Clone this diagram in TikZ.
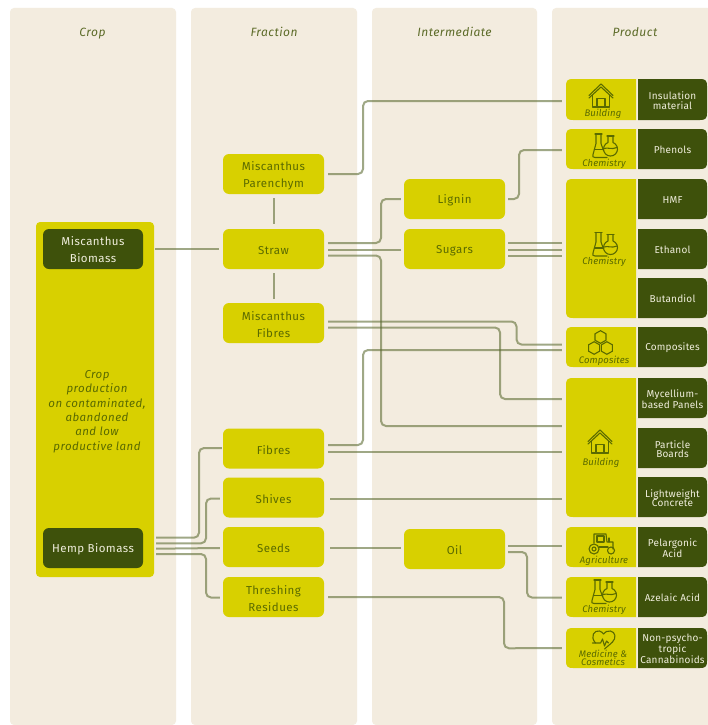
\documentclass[tikz,border=0pt]{standalone}
\usepackage{fontspec}
\setmainfont{Fira Sans}[LetterSpace=4]
\usetikzlibrary{calc}
\definecolor{panelc}{HTML}{F3ECDF}
\definecolor{yel}{HTML}{D8D000}
\definecolor{drk}{HTML}{3E510B}
\definecolor{ytext}{HTML}{5A6A00}
\definecolor{htext}{HTML}{5C6B28}
\definecolor{lnc}{HTML}{5A6A30}
\definecolor{ltext}{HTML}{F0EEDC}
\tikzset{
  x=1pt,y=-1pt,
  panel/.style={fill=panelc,rounded corners=4},
  head/.style={font=\fontsize{12}{14}\selectfont\itshape,text=htext,anchor=center,inner sep=0,text height=9pt,text depth=3pt},
  ybox/.style={fill=yel,rounded corners=6,minimum width=101pt,minimum height=40pt,inner sep=0},
  dbox/.style={fill=drk,rounded corners=6,minimum width=100pt,minimum height=40pt,inner sep=0},
  ytxt/.style={inner sep=0,align=center,text=ytext,font=\fontsize{11.5}{17}\selectfont},
  dtxt/.style={inner sep=0,align=center,text=ltext,font=\fontsize{11.5}{16.5}\selectfont},
  ptxt/.style={inner sep=0,align=center,text=ltext,font=\fontsize{10}{9.5}\selectfont\addfontfeature{LetterSpace=2}},
  ilab/.style={inner sep=0,align=center,text=ytext,font=\fontsize{9.5}{8.5}\selectfont\itshape\addfontfeature{LetterSpace=1.5}},
  conn/.style={draw=lnc,opacity=.58,line width=2pt,rounded corners=5pt},
  ico/.style={draw=ytext,line width=1.1pt,line join=round,line cap=round},
  iconhouse/.pic={
    \draw[ico] (-12,0)--(0,-11.5)--(12,0);
    \draw[ico] (-12,2.5)--(0,-8.5)--(12,2.5);
    \draw[ico] (-8.5,0)--(-8.5,11.5)--(8.5,11.5)--(8.5,0);
    \draw[ico] (-4,11.5)--(-4,3)--(4,3)--(4,11.5);
  },
  iconflask/.pic={
    \draw[ico] (-10,-11.5)--(-3,-11.5);
    \draw[ico] (-9,-11.5)--(-9,-2)--(-12,9) .. controls (-12.5,11.5) .. (-10,12)--(2,12);
    \draw[ico] (-4,-11.5)--(-4,-2)--(-1.5,5);
    \draw[ico] (-10.5,4)--(-2,4);
    \draw[ico] (2,-9.5)--(9,-9.5);
    \draw[ico] (3,-9.5)--(3,-3) arc[start angle=249,end angle=-69,radius=7] --(8,-9.5);
    \draw[ico] (-1,3) .. controls (3,1.5) and (6,4.5) .. (12,2);
  },
  iconhex/.pic={
    \foreach \cx/\cy in {0/-5.5,-6.4/5.5,6.4/5.5}{
      \draw[ico] (\cx,\cy-6.3)--(\cx+5.5,\cy-3.2)--(\cx+5.5,\cy+3.2)--(\cx,\cy+6.3)--(\cx-5.5,\cy+3.2)--(\cx-5.5,\cy-3.2)--cycle;
    }
  },
  icontractor/.pic={
    \draw[ico] (-8,-1)--(-8,-10)--(4,-10)--(5,-2)--(11,-2)--(11,5);
    \draw[ico] (-5,-8)--(2,-8)--(2,-2)--(-5,-2)--cycle;
    \draw[ico] (-3,3)--(6,3);
    \draw[ico] (7,-6) -- (7,-2);
    \draw[ico] (-8,5) circle[radius=5];
    \draw[ico] (-8,5) circle[radius=2];
    \draw[ico] (9,6.5) circle[radius=3.5];
  },
  iconheart/.pic={
    \draw[ico] (-8,3) .. controls (-14,-4) and (-9,-10) .. (-4,-9) .. controls (-2,-8.5) and (-.5,-7) .. (0,-6)
      .. controls (1,-8) and (4,-9.5) .. (7,-9) .. controls (12,-8) and (13,-2) .. (9,2) .. controls (6,5) and (3,7) .. (1,9);
    \draw[ico] (-11,3)--(-3,3)--(-1,-1)--(1,6)--(3,1)--(5,3);
  }
}
\newcommand{\ynode}[4]{% name x y text (a yellow box)
  \node[ybox] (#1) at (#2,#3) {};
  \node[ytxt] (#1t) at ([yshift=-1.5pt]#1.center) {#4};
}
\newcommand{\dnode}[4]{% name x y text (a dark box)
  \node[dbox] (#1) at (#2,#3) {};
  \node[dtxt] (#1t) at ([yshift=-.8pt]#1.center) {#4};
}
\newcommand{\lbox}[5]{% name x1 y1 x2 y2 : rounded on the left
  \fill[yel] (#4,#3)--(#2+7,#3) .. controls (#2+1.5,#3) and (#2,#3+1.5) .. (#2,#3+7)
     --(#2,#5-7) .. controls (#2,#5-1.5) and (#2+1.5,#5) .. (#2+7,#5)--(#4,#5)--cycle;
  \node[inner sep=0,minimum width=#4pt-#2pt,minimum height=#5pt-#3pt] (#1) at ({(#2+#4)/2},{(#3+#5)/2}) {};
}
\newcommand{\rbox}[6]{% name x1 y1 x2 y2 text : rounded on the right
  \fill[drk] (#2,#3)--(#4-7,#3) .. controls (#4-1.5,#3) and (#4,#3+1.5) .. (#4,#3+7)
     --(#4,#5-7) .. controls (#4,#5-1.5) and (#4-1.5,#5) .. (#4-7,#5)--(#2,#5)--cycle;
  \node[ptxt] (#1) at ({(#2+#4)/2},{(#3+#5)/2+1}) {#6};
}
\begin{document}
\begin{tikzpicture}
\useasboundingbox (0,0) rectangle (707,725);
\fill[white] (0,0) rectangle (707,725);
% column panels
\fill[panel] (10,8) rectangle (176,725);
\fill[panel] (191,8) rectangle (357,725);
\fill[panel] (372,8) rectangle (537,725);
\fill[panel] (552,8) rectangle (720,725);
\node[head] (h1) at (92.5,33.5) {Crop};
\node[head] (h2) at (274,33.5) {Fraction};
\node[head] (h3) at (454.5,33.5) {Intermediate};
\node[head] (h4) at (635,33.5) {Product};
% crop
\fill[yel,rounded corners=4] (36,222) rectangle (154,577);
\node[inner sep=0,minimum width=118pt,minimum height=355pt] (crop) at (95,399.5) {};
\node[inner sep=0,align=center,text=ytext,font=\fontsize{11.5}{14.3}\selectfont\itshape] (croptxt) at (97,411.5)
  {Crop\\production\\on contaminated,\\abandoned\\and low\\productive land};
\dnode{mb}{93}{249}{Miscanthus\\Biomass}
\dnode{hb}{93}{548}{Hemp Biomass}
% fraction
\ynode{parenchym}{273.5}{174}{Miscanthus\\Parenchym}
\ynode{straw}{273.5}{249}{Straw}
\ynode{mfibres}{273.5}{323}{Miscanthus\\Fibres}
\ynode{fibres}{273.5}{448.5}{Fibres}
\ynode{shives}{273.5}{497.5}{Shives}
\ynode{seeds}{273.5}{547}{Seeds}
\ynode{thresh}{273.5}{597}{Threshing\\Residues}
% intermediate
\ynode{lignin}{454.5}{199}{Lignin}
\ynode{sugars}{454.5}{249}{Sugars}
\ynode{oil}{454.5}{549}{Oil}
% product, left parts
\lbox{pa}{566}{79}{636}{120}
\lbox{pb}{566}{129}{636}{169}
\lbox{pc}{566}{179}{636}{318}
\lbox{pd}{566}{327}{636}{367}
\lbox{pe}{566}{378}{636}{517}
\lbox{pf}{566}{527}{636}{567}
\lbox{pg}{566}{577}{636}{617}
\lbox{ph}{566}{628}{636}{668}
% product, right parts
\rbox{qa}{638}{79}{707}{120}{Insulation\\material}
\rbox{qb}{638}{129}{707}{169}{Phenols}
\rbox{qc}{638}{179}{707}{219}{HMF}
\rbox{qd}{638}{229}{707}{269}{Ethanol}
\rbox{qe}{638}{278}{707}{318}{Butandiol}
\rbox{qf}{638}{327}{707}{367}{Composites}
\rbox{qg}{638}{378}{707}{418}{Mycellium-\\based Panels}
\rbox{qh}{638}{428}{707}{468}{Particle\\Boards}
\rbox{qi}{638}{477}{707}{517}{Lightweight\\Concrete}
\rbox{qj}{638}{527}{707}{567}{Pelargonic\\Acid}
\rbox{qk}{638}{577}{707}{617}{Azelaic Acid}
\rbox{ql}{638}{628}{707}{668}{Non-psycho-\\tropic\\Cannabinoids}
% icons and their labels
\pic at (601,95.5) {iconhouse};
\node[ilab] (la) at (603,114) {Building};
\pic at (605,145.5) {iconflask};
\node[ilab] (lb) at (604,163.5) {Chemistry};
\pic at (605,244) {iconflask};
\node[ilab] (lc) at (604,262) {Chemistry};
\pic at (600.5,342.5) {iconhex};
\node[ilab] (ld) at (604,360.5) {Composites};
\pic at (600,441.5) {iconhouse};
\node[ilab] (le) at (601,462.5) {Building};
\pic at (602,544) {icontractor};
\node[ilab] (lf) at (604,560.5) {Agriculture};
\pic at (604,591.5) {iconflask};
\node[ilab] (lg) at (604,610) {Chemistry};
\pic at (603.5,640) {iconheart};
\node[ilab] (lh) at (603,658) {Medicine \&\\Cosmetics};
% connectors
\draw[conn] ([xshift=12pt]mb.east) -- ([xshift=-4pt]straw.west);
\draw[conn] ([yshift=-4pt]parenchym.south) -- ([yshift=5pt]straw.north);
\draw[conn] ([yshift=-4pt]straw.south) -- ([yshift=4pt]mfibres.north);
\draw[conn] ([xshift=4pt]parenchym.east) -| (363,101) -- ([shift={(-4,1.5)}]pa.west);
\draw[conn] ([shift={(4,-6)}]straw.east) -| (381,199) -- ([xshift=-3pt]lignin.west);
\draw[conn] ([shift={(4,.5)}]straw.east) -- ([shift={(-3,.5)}]sugars.west);
\draw[conn] ([shift={(4,6.5)}]straw.east) -| (381,426) -- ([shift={(-4,-21.5)}]pe.west);
\draw[conn] ([xshift=3pt]lignin.east) -| (519,150) -- ([shift={(-4,1)}]pb.west);
\draw[conn] ([shift={(3,-6)}]sugars.east) -- ([shift={(-4,-5.5)}]pc.west);
\draw[conn] ([shift={(3,.5)}]sugars.east) -- ([shift={(-4,1)}]pc.west);
\draw[conn] ([shift={(3,6.5)}]sugars.east) -- ([shift={(-4,7)}]pc.west);
\draw[conn] ([shift={(4,-1.5)}]mfibres.east) -| (516.5,344.5) -- ([shift={(-4,-2.5)}]pd.west);
\draw[conn] ([shift={(4,4.5)}]mfibres.east) -| (500,399) -- ([shift={(-4,-48.5)}]pe.west);
\draw[conn] ([shift={(4,-3.5)}]fibres.east) -| (363,350) -- ([shift={(-4,3)}]pd.west);
\draw[conn] ([shift={(4,3.5)}]fibres.east) -- ([shift={(-4,4.5)}]pe.west);
\draw[conn] ([shift={(6,1)}]shives.east) -- ([shift={(-4,51)}]pe.west);
\draw[conn] ([shift={(6,1)}]seeds.east) -- ([shift={(-3,-1)}]oil.west);
\draw[conn] ([shift={(3,-3)}]oil.east) -- ([shift={(-4,-1)}]pf.west);
\draw[conn] ([shift={(3,3)}]oil.east) -| (527,597.5) -- ([shift={(-4,.5)}]pg.west);
\draw[conn] ([xshift=4pt]thresh.east) -| (504,648.3) -- ([xshift=-4pt]ph.west);
\draw[conn] ([shift={(13,-10.3)}]hb.east) -| (199,448) -- ([shift={(-1,-.5)}]fibres.west);
\draw[conn] ([shift={(13,-4.7)}]hb.east) -| (206,498.5) -- ([shift={(-3,1)}]shives.west);
\draw[conn] ([shift={(13,.7)}]hb.east) -- ([shift={(-3,1)}]seeds.west);
\draw[conn] ([shift={(13,6)}]hb.east) -| (206,597.5) -- ([shift={(-3,.5)}]thresh.west);
\end{tikzpicture}
\end{document}
